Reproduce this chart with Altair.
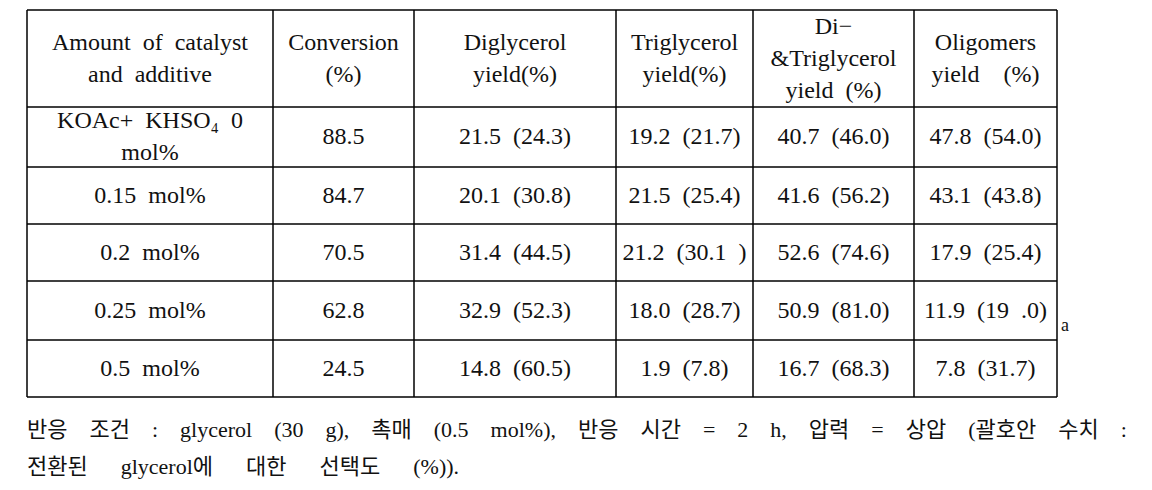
import altair as alt
import pandas as pd

SP = "\u2002"   # en space (svg collapses plain double spaces)
EM = "\u2003"   # em space

# ---- table content ----
headers = [
    f"Amount{SP}of{SP}catalyst\nand{SP}additive",
    "Conversion\n(%)",
    "Diglycerol\nyield(%)",
    "Triglycerol\nyield(%)",
    f"Di−\n&Triglycerol\nyield{SP}(%)",
    f"Oligomers\nyield{EM}(%)",
]
amounts = [f"KOAc+{SP}KHSO₄{SP}0\nmol%", f"0.15{SP}mol%", f"0.2{SP}mol%",
           f"0.25{SP}mol%", f"0.5{SP}mol%"]
conversion = ["88.5", "84.7", "70.5", "62.8", "24.5"]
diglycerol = ["21.5 (24.3)", "20.1 (30.8)", "31.4 (44.5)", "32.9 (52.3)", "14.8 (60.5)"]
triglycerol = ["19.2 (21.7)", "21.5 (25.4)", "21.2 (30.1 )", "18.0 (28.7)", "1.9 (7.8)"]
di_tri = ["40.7 (46.0)", "41.6 (56.2)", "52.6 (74.6)", "50.9 (81.0)", "16.7 (68.3)"]
oligomers = ["47.8 (54.0)", "43.1 (43.8)", "17.9 (25.4)", "11.9 (19 .0)", "7.8 (31.7)"]
footnote = [
    "반응 조건 : glycerol (30 g), 촉매 (0.5 mol%), 반응 시간 = 2 h, 압력 = 상압 (괄호안 수치 :",
    "전환된 glycerol에 대한 선택도 (%)).",
]
footnote_gap = [EM, EM + SP]
note_mark = "a"

# ---- layout (pixel grid of the table) ----
col_edges = [27, 273, 414, 616, 753, 914, 1057]
row_edges = [10, 107, 167, 224, 281, 340, 397]
LINE_H = 32

columns = [amounts, conversion, diglycerol, triglycerol, di_tri, oligomers]


def cell(text, j, r):
    t = text.replace(" ", SP)
    n = t.count("\n") + 1
    yc = (row_edges[r] + row_edges[r + 1]) / 2
    return dict(text=t, x=(col_edges[j] + col_edges[j + 1]) / 2,
                y=yc - (n - 1) / 2 * LINE_H)


cells = [cell(h, j, 0) for j, h in enumerate(headers)]
for i in range(len(amounts)):
    for j, col in enumerate(columns):
        cells.append(cell(col[i], j, i + 1))
cells_df = pd.DataFrame(cells)

vert_df = pd.DataFrame({"x": col_edges, "y": row_edges[0], "y2": row_edges[-1]})
horiz_df = pd.DataFrame({"y": row_edges, "x": col_edges[0], "x2": col_edges[-1]})
foot_df = pd.DataFrame({
    "text": [f.replace(" ", g) for f, g in zip(footnote, footnote_gap)],
    "x": [27, 27], "y": [430, 467]})
mark_df = pd.DataFrame({"text": [note_mark], "x": [1061], "y": [326]})

X = alt.Scale(domain=[8, 1144])
Y = alt.Scale(domain=[8, 482], reverse=True)
FONT = "Liberation Serif, Noto Sans CJK KR"

vlines = alt.Chart(vert_df).mark_rule(color="black", strokeWidth=1.5).encode(
    x=alt.X("x:Q", scale=X, axis=None),
    y=alt.Y("y:Q", scale=Y, axis=None),
    y2="y2:Q",
)
hlines = alt.Chart(horiz_df).mark_rule(color="black", strokeWidth=1.5).encode(
    y=alt.Y("y:Q", scale=Y, axis=None),
    x=alt.X("x:Q", scale=X, axis=None),
    x2="x2:Q",
)
texts = alt.Chart(cells_df).mark_text(
    font=FONT, fontSize=24, color="#111", lineBreak="\n", lineHeight=LINE_H,
    align="center", baseline="middle",
).encode(
    x=alt.X("x:Q", scale=X, axis=None),
    y=alt.Y("y:Q", scale=Y, axis=None),
    text="text:N",
)
foot = alt.Chart(foot_df).mark_text(
    font=FONT, fontSize=22, color="#111", align="left", baseline="middle",
).encode(
    x=alt.X("x:Q", scale=X, axis=None),
    y=alt.Y("y:Q", scale=Y, axis=None),
    text="text:N",
)
amark = alt.Chart(mark_df).mark_text(
    font=FONT, fontSize=18, color="#111", align="left", baseline="middle",
).encode(
    x=alt.X("x:Q", scale=X, axis=None),
    y=alt.Y("y:Q", scale=Y, axis=None),
    text="text:N",
)

chart = alt.layer(vlines, hlines, texts, foot, amark).properties(
    width=1136, height=474, padding=0, autosize="none", background="white"
).configure_view(stroke=None)

chart.save("out.html", embed_options={"renderer": "svg", "actions": False})
